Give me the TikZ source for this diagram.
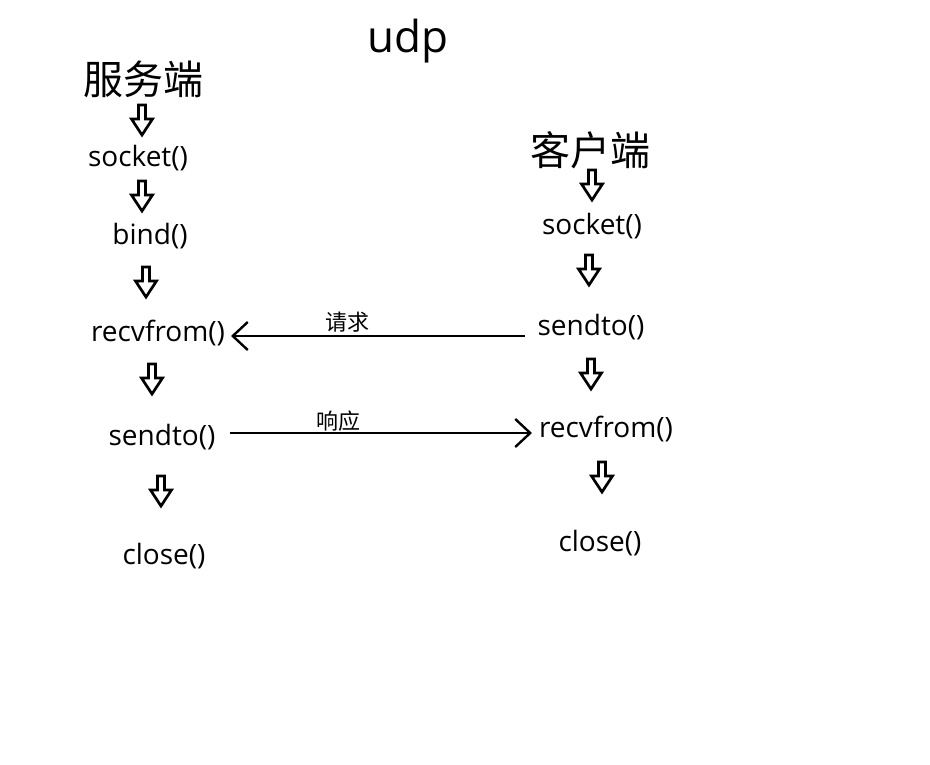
\documentclass[tikz,border=0pt]{standalone}
\usepackage{fontspec}
\setmainfont{Open Sans}
\newfontfamily\cjk{Noto Sans CJK SC}
\usetikzlibrary{arrows.meta}

\begin{document}
\begin{tikzpicture}[x=1pt,y=-1pt,>={Straight Barb[length=15pt,width=28pt]},
    title node/.style={font=\fontsize{44}{48}\selectfont},
    side node/.style={font=\cjk\fontsize{40}{44}\selectfont},
    call node/.style={font=\fontsize{28}{32}\selectfont},
    msg node/.style={font=\cjk\fontsize{22}{24}\selectfont},
    down arrow/.pic={\draw[line width=2.7pt,line join=miter]
      (-3.5,-15) -- (3.5,-15) -- (3.5,-1) -- (10.5,-1) -- (0,15) -- (-10.5,-1) -- (-3.5,-1) -- cycle;}]

  \useasboundingbox (0,0) rectangle (930,764);

  \node[title node] (udp) at (408,41) {udp};

  % server side
  \node[side node] (server) at (143,79) {服务端};
  \pic (sa1) at (142,120) {down arrow};
  \node[call node] (s_socket) at (138,158) {socket()};
  \pic (sa2) at (142,196) {down arrow};
  \node[call node] (s_bind) at (150,236) {bind()};
  \pic (sa3) at (146,282) {down arrow};
  \node[call node] (s_recv) at (158,333) {recvfrom()};
  \pic (sa4) at (152,379) {down arrow};
  \node[call node] (s_send) at (162,437) {sendto()};
  \pic (sa5) at (161,491) {down arrow};
  \node[call node] (s_close) at (164,556) {close()};

  % client side
  \node[side node] (client) at (590,150) {客户端};
  \pic (ca1) at (592,185) {down arrow};
  \node[call node] (c_socket) at (592,226) {socket()};
  \pic (ca2) at (589,270) {down arrow};
  \node[call node] (c_send) at (591,327) {sendto()};
  \pic (ca3) at (591,374) {down arrow};
  \node[call node] (c_recv) at (606,429) {recvfrom()};
  \pic (ca4) at (602,477) {down arrow};
  \node[call node] (c_close) at (600,543) {close()};

  \coordinate (req_from) at (525,336);
  \coordinate (req_to) at (231,336);
  \coordinate (resp_from) at (230,433);
  \coordinate (resp_to) at (532,433);

  \draw[->,line width=2.4pt] (req_from) -- (req_to);
  \draw[->,line width=2.4pt] (resp_from) -- (resp_to);
  \node[msg node] (req) at (347,322) {请求};
  \node[msg node] (resp) at (338,421) {响应};

\end{tikzpicture}
\end{document}
